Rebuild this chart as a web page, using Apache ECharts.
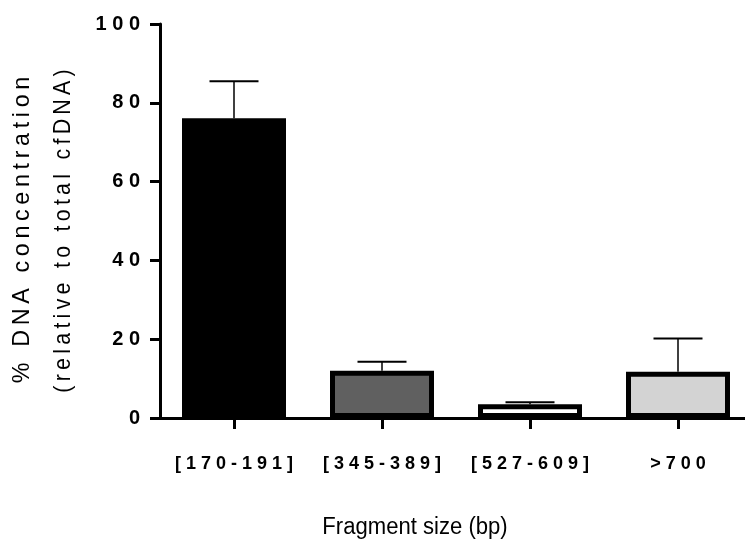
<!DOCTYPE html>
<html>
<head>
<meta charset="utf-8">
<script src="https://cdn.jsdelivr.net/npm/echarts@6/dist/echarts.min.js"></script>
<style>html,body{margin:0;padding:0;background:#fff}#c{width:745px;height:541px}</style>
</head>
<body>
<div id="c"></div>
<script>
var categories = ['[170-191]', '[345-389]', '[527-609]', '>700'];
var meanValues = [76.1, 12.0, 3.5, 11.75];
var errorTops = [85.5, 14.3, 4.0, 20.2];
var barColors = ['#000000', '#606060', '#ffffff', '#d3d3d3'];
var yTicks = [0, 20, 40, 60, 80, 100];
var xTitle = 'Fragment size (bp)';
var yTitle1 = '% DNA concentration';
var yTitle2 = '(relative to total cfDNA)';

function spread(s, ch) { return s.split('').join(ch); }

var chart = echarts.init(document.getElementById('c'), null, {renderer: 'canvas'});
var font = '"Liberation Sans", Arial, sans-serif';

chart.setOption({
  animation: false,
  backgroundColor: '#ffffff',
  grid: {left: 160, top: 24, width: 592, height: 394, containLabel: false, outerBoundsMode: 'none'},
  xAxis: {
    type: 'category',
    data: categories,
    axisLine: {lineStyle: {color: '#000', width: 3}},
    axisTick: {show: true, alignWithLabel: true, interval: 0, length: 11, lineStyle: {color: '#000', width: 3}},
    axisLabel: {
      interval: 0, hideOverlap: false,
      margin: 37, color: '#000', fontSize: 18, fontWeight: 'bold', fontFamily: font,
      formatter: function (v) { return spread(v, ' '); }
    }
  },
  yAxis: {
    type: 'value', min: yTicks[0], max: yTicks[yTicks.length - 1], interval: 20,
    splitLine: {show: false},
    axisLine: {show: true, lineStyle: {color: '#000', width: 3}},
    axisTick: {show: true, length: 10, lineStyle: {color: '#000', width: 3}},
    axisLabel: {
      margin: 20, color: '#000', fontSize: 20, fontWeight: 'bold', fontFamily: font,
      formatter: function (v) { return spread(String(v), ' '); }
    }
  },
  series: [
    {
      type: 'bar',
      barWidth: 104,
      data: meanValues.map(function (v, i) {
        return {value: v, itemStyle: {color: barColors[i], borderColor: '#000', borderWidth: 5}};
      }),
      z: 2
    },
    {
      type: 'custom',
      z: 1,
      data: meanValues.map(function (v, i) { return [i, v, errorTops[i]]; }),
      renderItem: function (params, api) {
        var x = api.coord([api.value(0), 0])[0];
        var yb = api.coord([api.value(0), api.value(1)])[1];
        var yt = api.coord([api.value(0), api.value(2)])[1];
        var hw = 24.5;
        return {
          type: 'group',
          children: [
            {type: 'line', shape: {x1: x, y1: yb, x2: x, y2: yt}, style: {stroke: '#000', lineWidth: 1.5}},
            {type: 'line', shape: {x1: x - hw, y1: yt, x2: x + hw, y2: yt}, style: {stroke: '#000', lineWidth: 2}}
          ]
        };
      }
    }
  ],
  graphic: [
    {type: 'text', x: 415, y: 528, scaleX: 0.96, style: {text: xTitle, font: '23px ' + font, fill: '#000', textAlign: 'center', textVerticalAlign: 'middle'}},
    {type: 'text', x: 22, y: 230, rotation: Math.PI / 2, scaleX: 0.97, style: {text: spread(yTitle1, '\u2009'), font: '24px ' + font, fill: '#000', textAlign: 'center', textVerticalAlign: 'middle'}},
    {type: 'text', x: 63, y: 231, rotation: Math.PI / 2, scaleX: 0.89, style: {text: spread(yTitle2, '\u2009'), font: '24px ' + font, fill: '#000', textAlign: 'center', textVerticalAlign: 'middle'}}
  ]
});
</script>
</body>
</html>
